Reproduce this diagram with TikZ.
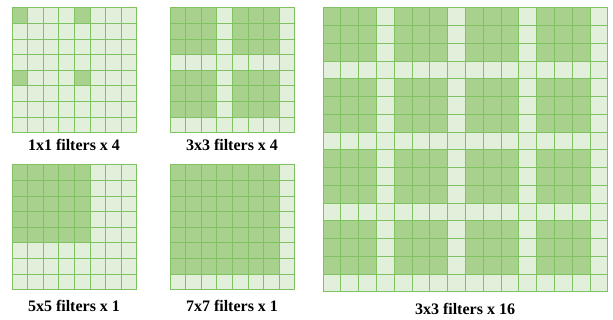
\documentclass[tikz,border=0pt]{standalone}
\usepackage{fontspec}
\setmainfont{Liberation Serif}
\definecolor{gridline}{HTML}{80C162}
\definecolor{lightg}{HTML}{E2EFDA}
\definecolor{darkg}{HTML}{A9D18E}
\tikzset{
  lbl/.style={font=\bfseries\fontsize{16}{19}\selectfont, anchor=base, inner sep=0pt},
  gline/.style={draw=gridline, line width=1pt},
}
\newcommand{\mygridlines}[1]{%
  \foreach \k in {0,...,#1}{
    \draw[gline] (\k,0) -- (\k,#1);
    \draw[gline] (0,\k) -- (#1,\k);
  }}
\begin{document}
\begin{tikzpicture}[x=1pt,y=-1pt]
\useasboundingbox (0,0) rectangle (613,320);
% grid 1: 1x1 filters x 4
\begin{scope}[shift={(12,8)}, x=15.6pt, y=-15.6pt]
  \fill[lightg] (0,0) rectangle (8,8);
  \foreach \c/\r in {0/0,4/0,0/4,4/4}
    \fill[darkg] (\c,\r) rectangle ++(1,1);
  \mygridlines{8}
\end{scope}
% grid 2: 3x3 filters x 4
\begin{scope}[shift={(170,8)}, x=15.6pt, y=-15.6pt]
  \fill[lightg] (0,0) rectangle (8,8);
  \foreach \c/\r in {0/0,4/0,0/4,4/4}
    \fill[darkg] (\c,\r) rectangle ++(3,3);
  \mygridlines{8}
\end{scope}
% grid 3: 5x5 filters x 1
\begin{scope}[shift={(12,165)}, x=15.6pt, y=-15.6pt]
  \fill[lightg] (0,0) rectangle (8,8);
  \fill[darkg] (0,0) rectangle (5,5);
  \mygridlines{8}
\end{scope}
% grid 4: 7x7 filters x 1
\begin{scope}[shift={(170,165)}, x=15.6pt, y=-15.6pt]
  \fill[lightg] (0,0) rectangle (8,8);
  \fill[darkg] (0,0) rectangle (7,7);
  \mygridlines{8}
\end{scope}
% grid 5: 3x3 filters x 16
\begin{scope}[shift={(323,8)}, x=17.8pt, y=-17.75pt]
  \fill[lightg] (0,0) rectangle (16,16);
  \foreach \c in {0,4,8,12}
    \foreach \r in {0,4,8,12}
      \fill[darkg] (\c,\r) rectangle ++(3,3);
  \mygridlines{16}
\end{scope}
\node[lbl] (l1) at (74,151) {1x1 filters x 4};
\node[lbl] (l2) at (232,151) {3x3 filters x 4};
\node[lbl] (l3) at (74,312) {5x5 filters x 1};
\node[lbl] (l4) at (232,312) {7x7 filters x 1};
\node[lbl] (l5) at (465,315) {3x3 filters x 16};
\end{tikzpicture}
\end{document}
